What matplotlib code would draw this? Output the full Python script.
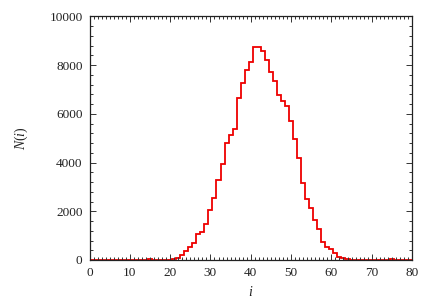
import numpy as np
import matplotlib
matplotlib.use("Agg")
import matplotlib.pyplot as plt
from matplotlib.ticker import MultipleLocator

i_vals = list(range(0, 81))
counts = [0, 0, 5, 15, 10, 20, 10, 5, 0, 5,
          10, 20, 15, 10, 20, 25, 15, 10, 20, 15,
          10, 25, 85, 200, 375, 520, 715, 1050, 1160, 1485,
          2060, 2525, 3275, 3920, 4800, 5110, 5360, 6630, 7275, 7795,
          8135, 8730, 8720, 8590, 8210, 7725, 7360, 6770, 6535, 6325,
          5710, 4955, 4200, 3170, 2500, 2120, 1640, 1270, 725, 545,
          465, 300, 125, 70, 30, 15, 10, 5, 5, 0,
          5, 0, 5, 10, 15, 25, 20, 10, 5, 0,
          0]
x_ticks = [0, 10, 20, 30, 40, 50, 60, 70, 80]
y_ticks = [0, 2000, 4000, 6000, 8000, 10000]

plt.rcParams['font.family'] = ['Liberation Serif', 'DejaVu Serif']
plt.rcParams['mathtext.fontset'] = 'custom'
plt.rcParams['mathtext.it'] = 'Liberation Serif:italic'
plt.rcParams['mathtext.rm'] = 'Liberation Serif'

fig = plt.figure(figsize=(4.33, 3.04), dpi=100)
ax = fig.add_axes([89.5/433, 1-260/304, (412-89.5)/433, (260-16.25)/304])

x = np.array(i_vals, dtype=float)
edges = np.append(x - 0.5, x[-1] + 0.5)
ax.stairs(counts, edges, color='#ee0000', linewidth=1.3, baseline=None)

ax.set_xlim(0, 80)
ax.set_ylim(0, 10000)
ax.set_xticks(x_ticks)
ax.set_yticks(y_ticks)
ax.xaxis.set_minor_locator(MultipleLocator(1))
ax.yaxis.set_minor_locator(MultipleLocator(400))
ax.tick_params(which='both', direction='in', top=True, right=True, colors='#333333',
               labelcolor='#222222', labelsize=9.5, width=0.7)
ax.tick_params(which='major', length=4.5, pad=5)
ax.tick_params(which='minor', length=2.5)
for sp in ax.spines.values():
    sp.set_linewidth(0.9)
    sp.set_color('#222222')

ax.set_xlabel('$i$', fontsize=10, labelpad=4, color='#222222')
ax.set_ylabel('$N(i)$', fontsize=10, labelpad=14, color='#222222')

fig.savefig('out.png', dpi=100)
